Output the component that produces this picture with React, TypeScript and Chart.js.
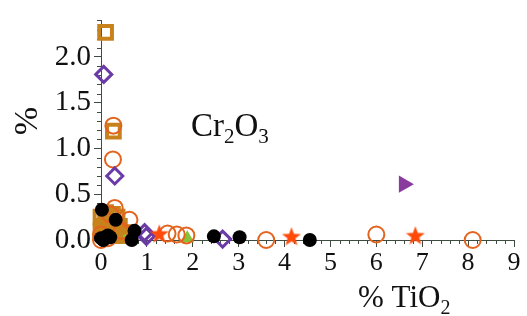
import React, { useEffect, useRef } from "react";
import { Chart, registerables } from "chart.js";

Chart.register(...registerables);

// ---- data (x = % TiO2, y = % Cr2O3) ----
const blackX = [0.02, 0.32, 0.0, 0.1, 0.2, 0.05, 0.15, 0.67, 0.73, 2.46, 3.02, 4.55];
const blackY = [0.33, 0.22, 0.02, 0.03, 0.03, 0.0, 0.05, 0.0, 0.1, 0.04, 0.03, 0.0];

const orangeCircleX = [0.26, 0.27, 0.3, 0.62, 1.45, 1.65, 1.86, 3.6, 6.0, 8.1, 0.0, 0.0, 0.2, 0.15, 0.45];
const orangeCircleY = [0.88, 1.25, 0.35, 0.22, 0.07, 0.06, 0.05, 0.0, 0.06, 0.0, 0.0, 0.06, 0.28, 0.02, 0.1];

const squareX = [0.1, 0.27, 0.0, 0.05, 0.15, 0.2, 0.3, 0.1, 0.4, 0.5, 0.0, 0.25, 0.35, 0.45, 0.1, 0.2];
const squareY = [2.27, 1.19, 0.25, 0.15, 0.2, 0.1, 0.05, 0.05, 0.15, 0.08, 0.1, 0.28, 0.25, 0.05, 0.3, 0.18];

const diamondX = [0.06, 0.3, 0.99, 0.95, 2.65];
const diamondY = [1.81, 0.7, 0.04, 0.08, 0.01];

const starX = [1.27, 4.15, 6.85];
const starY = [0.07, 0.04, 0.05];

const greenX = [0.1, 0.3, 0.5, 1.88];
const greenY = [0.0, 0.0, 0.0, 0.02];

const purpleTriX = [6.6];
const purpleTriY = [0.61];

const xTickValues = [0, 1, 2, 3, 4, 5, 6, 7, 8, 9];
const yTickValues = [0, 0.5, 1.0, 1.5, 2.0];

const AXIS = "#3f4d40";
const SERIF = "'Liberation Serif', 'DejaVu Serif', serif";

function pts(xs: number[], ys: number[]) {
  return xs.map((x, i) => ({ x, y: ys[i] }));
}

function makeStar(color: string, size: number) {
  const c = document.createElement("canvas");
  c.width = size;
  c.height = size;
  const ctx = c.getContext("2d")!;
  const cx = size / 2;
  const cy = size / 2 + 0.8;
  const R = size / 2;
  const r = R * 0.42;
  ctx.beginPath();
  for (let i = 0; i < 10; i++) {
    const a = -Math.PI / 2 + (i * Math.PI) / 5;
    const rr = i % 2 === 0 ? R : r;
    const px = cx + Math.cos(a) * rr;
    const py = cy + Math.sin(a) * rr;
    if (i === 0) ctx.moveTo(px, py);
    else ctx.lineTo(px, py);
  }
  ctx.closePath();
  ctx.fillStyle = color;
  ctx.fill();
  return c;
}

function drawSubText(
  ctx: CanvasRenderingContext2D,
  parts: { t: string; sub?: boolean }[],
  x: number,
  y: number,
  size: number,
  subSize: number,
  subDrop: number
) {
  let cx = x;
  ctx.textBaseline = "alphabetic";
  ctx.textAlign = "left";
  for (const p of parts) {
    ctx.font = `${p.sub ? subSize : size}px ${SERIF}`;
    ctx.fillText(p.t, cx, p.sub ? y + subDrop : y);
    cx += ctx.measureText(p.t).width;
  }
}

const decorPlugin = {
  id: "decor",
  beforeDatasetsDraw(chart: any) {
    const ctx = chart.ctx as CanvasRenderingContext2D;
    const xs = chart.scales.x;
    const ys = chart.scales.y;
    const area = chart.chartArea;
    ctx.save();
    ctx.strokeStyle = AXIS;
    ctx.lineWidth = 1;
    for (let i = 0; i <= 45; i++) {
      if (i % 5 === 0) continue;
      const px = Math.round(xs.getPixelForValue(i * 0.2)) + 0.5;
      ctx.beginPath();
      ctx.moveTo(px, area.bottom);
      ctx.lineTo(px, area.bottom + 4);
      ctx.stroke();
    }
    for (let i = 0; i <= 24; i++) {
      if (i % 5 === 0) continue;
      const py = Math.round(ys.getPixelForValue(i * 0.1)) + 0.5;
      ctx.beginPath();
      ctx.moveTo(area.left, py);
      ctx.lineTo(area.left - 4, py);
      ctx.stroke();
    }
    ctx.restore();
  },
  afterDraw(chart: any) {
    const ctx = chart.ctx as CanvasRenderingContext2D;
    ctx.save();
    ctx.fillStyle = "#111";
    drawSubText(
      ctx,
      [{ t: "Cr" }, { t: "2", sub: true }, { t: "O" }, { t: "3", sub: true }],
      191,
      136,
      33,
      21,
      7
    );
    drawSubText(ctx, [{ t: "% TiO" }, { t: "2", sub: true }], 358, 307, 31, 20, 7);
    ctx.translate(37, 121);
    ctx.rotate(-Math.PI / 2);
    ctx.font = `34px ${SERIF}`;
    ctx.textAlign = "center";
    ctx.textBaseline = "alphabetic";
    ctx.fillText("%", 0, 0);
    ctx.restore();
  },
};

export default function App() {
  const ref = useRef<HTMLCanvasElement | null>(null);

  useEffect(() => {
    document.body.style.margin = "0";
    const star = makeStar("#ff4a0a", 20);
    const chart = new Chart(ref.current!, {
      type: "scatter",
      data: {
        datasets: [
          {
            label: "black",
            data: pts(blackX, blackY),
            pointStyle: "circle",
            pointRadius: 7,
            backgroundColor: "#000000",
            borderColor: "#000000",
            borderWidth: 0,
            order: 1,
            clip: false,
          },
          {
            label: "star",
            data: pts(starX, starY),
            pointStyle: star as any,
            pointRadius: 10,
            order: 2,
            clip: false,
          },
          {
            label: "purpleTri",
            data: pts(purpleTriX, purpleTriY),
            pointStyle: "triangle",
            rotation: 90,
            pointRadius: 10,
            backgroundColor: "#8a3c9e",
            borderColor: "#8a3c9e",
            borderWidth: 0,
            order: 3,
            clip: false,
          },
          {
            label: "diamond",
            data: pts(diamondX, diamondY),
            pointStyle: "rectRot",
            pointRadius: 8,
            backgroundColor: "rgba(255,255,255,0)",
            borderColor: "#6a3aa6",
            borderWidth: 3,
            order: 4,
            clip: false,
          },
          {
            label: "orangeCircle",
            data: pts(orangeCircleX, orangeCircleY),
            pointStyle: "circle",
            pointRadius: 8,
            backgroundColor: "rgba(255,255,255,0)",
            borderColor: "#e2641e",
            borderWidth: 2,
            order: 5,
            clip: false,
          },
          {
            label: "square",
            data: pts(squareX, squareY),
            pointStyle: "rect",
            pointRadius: 9,
            backgroundColor: "rgba(255,255,255,0)",
            borderColor: "#c8821c",
            borderWidth: 4,
            order: 6,
            clip: false,
          },
          {
            label: "green",
            data: pts(greenX, greenY),
            pointStyle: "triangle",
            pointRadius: 8,
            backgroundColor: "#86c13a",
            borderColor: "#86c13a",
            borderWidth: 0,
            order: 7,
            clip: false,
          },
        ],
      },
      options: {
        animation: false,
        responsive: false,
        maintainAspectRatio: false,
        layout: { padding: { left: 0, right: 6, top: 12, bottom: 0 } },
        plugins: {
          legend: { display: false },
          tooltip: { enabled: false },
        },
        scales: {
          x: {
            type: "linear",
            min: 0,
            max: 9,
            afterBuildTicks: (s: any) => {
              s.ticks = xTickValues.map((v) => ({ value: v }));
            },
            afterFit: (s: any) => {
              s.height = 76;
            },
            ticks: {
              font: { family: SERIF, size: 26 },
              color: "#111",
              padding: 1,
              maxRotation: 0,
              autoSkip: false,
              callback: (v: any) => String(v),
            },
            grid: {
              drawOnChartArea: false,
              drawTicks: true,
              tickLength: 7,
              color: AXIS,
            },
            border: { display: true, color: AXIS, width: 1 },
          },
          y: {
            type: "linear",
            min: 0,
            max: 2.4,
            afterBuildTicks: (s: any) => {
              s.ticks = yTickValues.map((v) => ({ value: v }));
            },
            afterFit: (s: any) => {
              s.width = 101;
            },
            ticks: {
              font: { family: SERIF, size: 29 },
              color: "#111",
              padding: 3,
              autoSkip: false,
              callback: (v: any) => Number(v).toFixed(1),
            },
            grid: {
              drawOnChartArea: false,
              drawTicks: true,
              tickLength: 7,
              color: AXIS,
            },
            border: { display: true, color: AXIS, width: 1 },
          },
        },
      },
      plugins: [decorPlugin],
    });
    return () => chart.destroy();
  }, []);

  return (
    <div style={{ position: "fixed", left: 0, top: 0, width: 527, height: 316, background: "#fff" }}>
      <canvas ref={ref} width={527} height={316} style={{ width: 527, height: 316 }} />
    </div>
  );
}
